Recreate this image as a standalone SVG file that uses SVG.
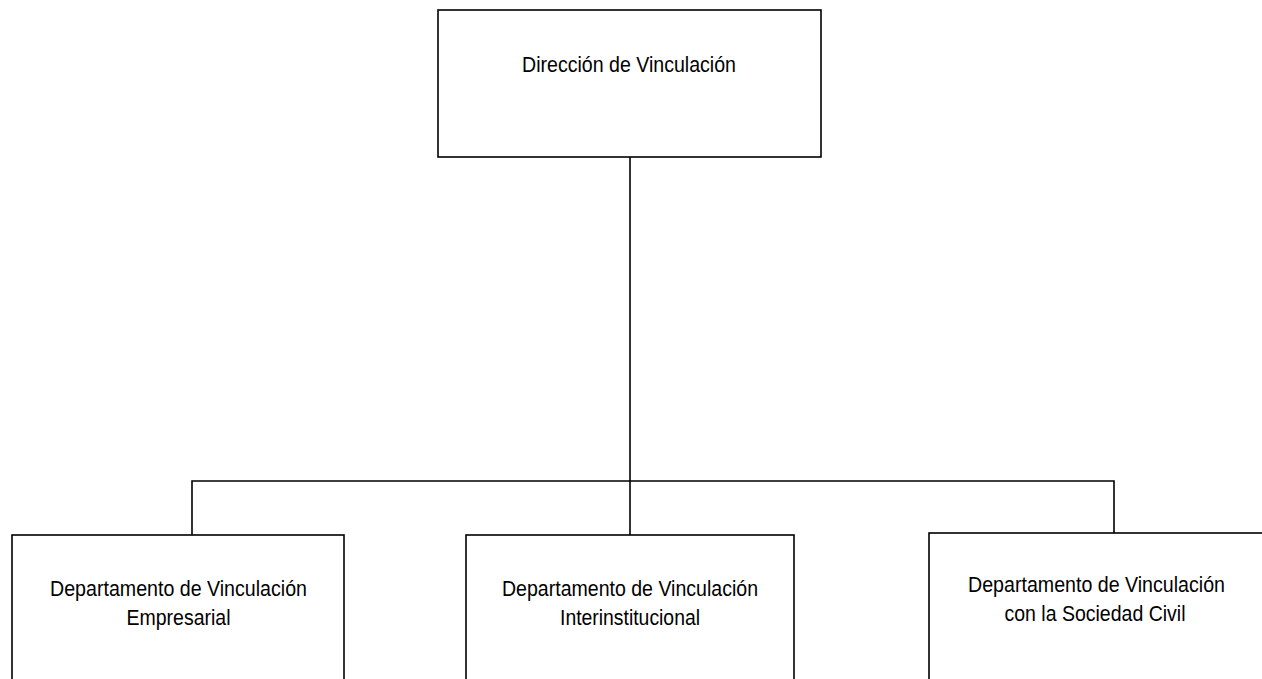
<svg xmlns="http://www.w3.org/2000/svg" width="1262" height="679" viewBox="0 0 1262 679">
<style>
.box{fill:#fff;stroke:#000;stroke-width:1.6}
.ln{fill:none;stroke:#000;stroke-width:1.6}
text{font-family:"Liberation Sans",Arial,sans-serif;font-size:22.5px;fill:#000;text-anchor:middle}
</style>
<rect width="1262" height="679" fill="#fff"/>
<g id="connectors">
<path class="ln" d="M630,157 V535"/>
<path class="ln" d="M192,535 V481 H1114 V533"/>
</g>
<g id="n-direccion">
<rect class="box" x="438" y="10" width="383" height="147"/>
<text x="629" y="72" textLength="214" lengthAdjust="spacingAndGlyphs">Dirección de Vinculación</text>
</g>
<g id="n-empresarial">
<rect class="box" x="12" y="535" width="332" height="160"/>
<text x="178.5" y="596" textLength="257" lengthAdjust="spacingAndGlyphs">Departamento de Vinculación</text>
<text x="178.5" y="625" textLength="104" lengthAdjust="spacingAndGlyphs">Empresarial</text>
</g>
<g id="n-interinstitucional">
<rect class="box" x="466" y="535" width="328" height="160"/>
<text x="630" y="596" textLength="256" lengthAdjust="spacingAndGlyphs">Departamento de Vinculación</text>
<text x="630" y="625" textLength="140" lengthAdjust="spacingAndGlyphs">Interinstitucional</text>
</g>
<g id="n-sociedad">
<rect class="box" x="929" y="533" width="345" height="160"/>
<text x="1096.5" y="592" textLength="257" lengthAdjust="spacingAndGlyphs">Departamento de Vinculación</text>
<text x="1095" y="621" textLength="181" lengthAdjust="spacingAndGlyphs">con la Sociedad Civil</text>
</g>
</svg>
